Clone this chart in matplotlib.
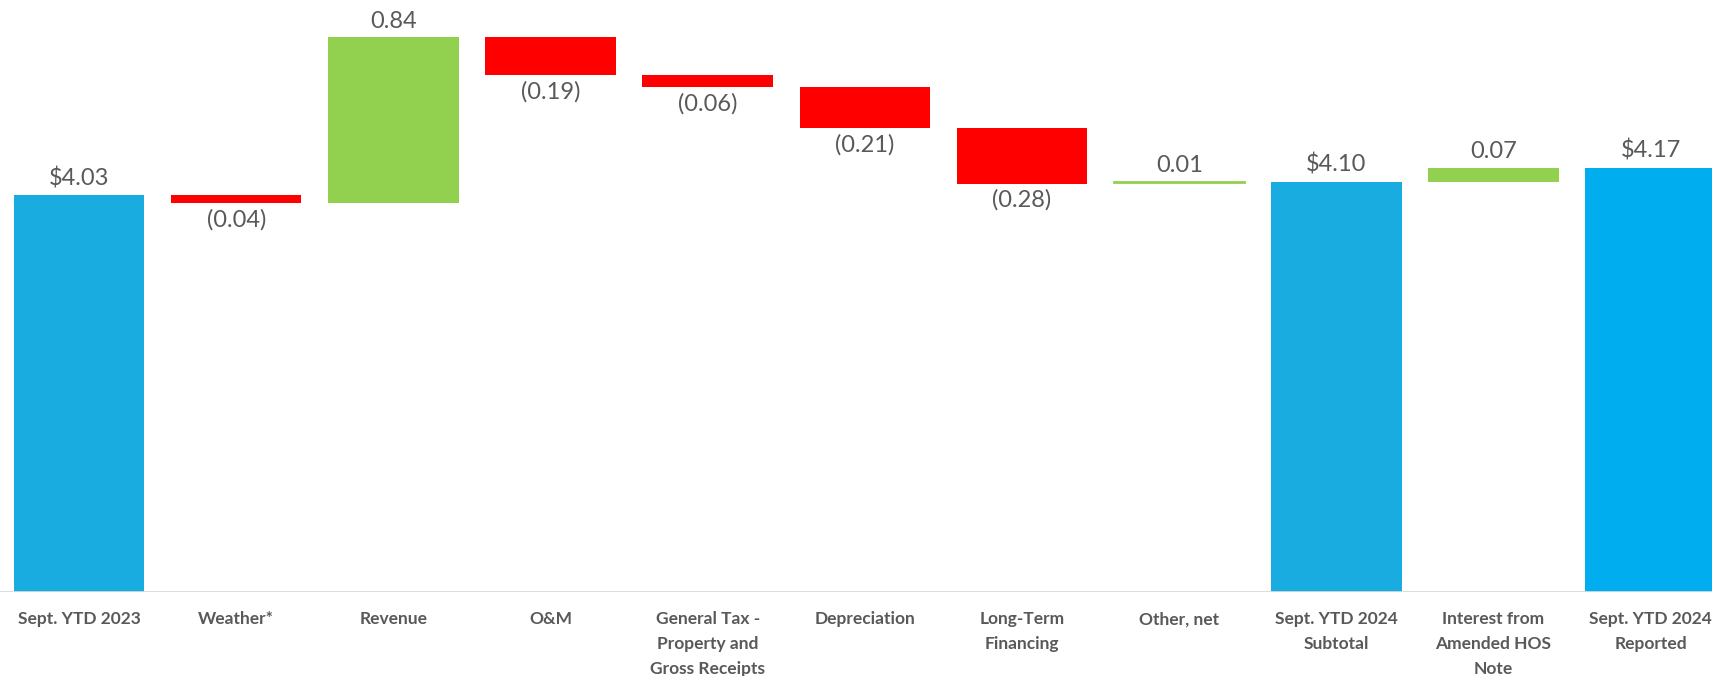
import numpy as np
import matplotlib.pyplot as plt

# EPS bridge, Sept. YTD 2023 -> Sept. YTD 2024
categories = ["Sept. YTD 2023", "Weather*", "Revenue", "O&M",
              "General Tax -\nProperty and\nGross Receipts", "Depreciation",
              "Long-Term\nFinancing", "Other, net", "Sept. YTD 2024\nSubtotal",
              "Interest from\nAmended HOS\nNote", "Sept. YTD 2024\nReported"]
changes = [4.03, -0.04, 0.84, -0.19, -0.06, -0.21, -0.28, 0.01, 4.10, 0.07, 4.17]
is_total = [True, False, False, False, False, False, False, False, True, False, True]

BLUE = "#19ACE0"
BLUE2 = "#00AEEF"
GREEN = "#92D050"
RED = "#FF0000"
TXT = "#595959"

plt.rcParams["font.family"] = ["Lato", "DejaVu Sans"]

fig = plt.figure(figsize=(17.12, 6.76), dpi=100)
ax = fig.add_axes([0, 1 - 592 / 676, 1, 592 / 676])

x = np.arange(len(categories))
running = 0.0
for i, (v, tot) in enumerate(zip(changes, is_total)):
    if tot:
        color = BLUE2 if i == len(changes) - 1 else BLUE
        ax.bar(x[i], v, bottom=0, width=0.83, color=color, zorder=2)
        ax.text(x[i], v + 0.03, f"${v:.2f}", ha="center", va="bottom",
                fontsize=17, color=TXT)
        running = v
    else:
        lo, hi = sorted([running, running + v])
        if abs(v) < 0.015:
            ax.plot([x[i] - 0.415, x[i] + 0.415], [hi, hi], color=GREEN, lw=2, zorder=2)
        else:
            ax.bar(x[i], hi - lo, bottom=lo, width=0.83,
                   color=GREEN if v > 0 else RED, zorder=2)
        if v > 0:
            ax.text(x[i], hi + 0.03, f"{v:.2f}", ha="center", va="bottom",
                    fontsize=17, color=TXT)
        else:
            ax.text(x[i], lo - 0.03, f"({abs(v):.2f})", ha="center", va="top",
                    fontsize=17, color=TXT)
        running += v

ax.set_xlim(-0.503, 10.39)
ax.set_ylim(2.02, 5.02)
ax.axhline(2.02, color="#D9D9D9", lw=2, zorder=3)

for s in ax.spines.values():
    s.set_visible(False)
ax.set_yticks([])
ax.set_xticks(x)
ax.set_xticklabels(categories, fontsize=12.5, fontweight="bold", color=TXT,
                   linespacing=1.68, va="top")
ax.tick_params(axis="x", length=0, pad=14)

fig.savefig("out.png", dpi=100)
